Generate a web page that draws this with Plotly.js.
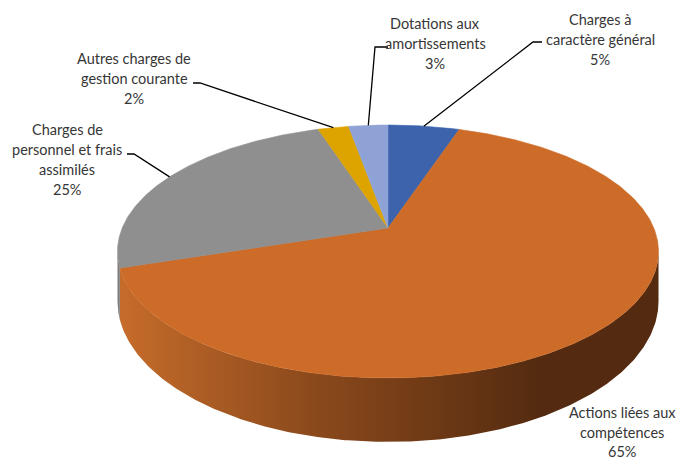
<!DOCTYPE html>
<html>
<head>
<meta charset="utf-8">
<script src="https://cdn.plot.ly/plotly-3.0.1.min.js"></script>
<style>html,body{margin:0;padding:0;background:#fff;}#chart{width:678px;height:459px;}</style>
</head>
<body>
<div id="chart"></div>
<script>
// ---- data ----
const categories = ["Charges à caractère général", "Actions liées aux compétences", "Charges de personnel et frais assimilés", "Autres charges de gestion courante", "Dotations aux amortissements"];
const labelLines = [["Charges à", "caractère général"], ["Actions liées aux", "compétences"], ["Charges de", "personnel et frais", "assimilés"], ["Autres charges de", "gestion courante"], ["Dotations aux", "amortissements"]];
const values = [5.1, 64.9, 25.0, 2.2, 2.8];

// ---- styles / layout (not data) ----
const topColors = ["#3d63ad", "#cd6b28", "#8f8f8f", "#dda400", "#8ea2d6"];
const sideScales = [
  [[0, "#2c4a84"], [1, "#1f3560"]],
  [[0, "#c66c2b"], [0.45, "#8c4a1c"], [1, "#542b10"]],
  [[0, "#7d7d7d"], [1, "#6a6a6a"]],
  [[0, "#a87c00"], [1, "#7a5a00"]],
  [[0, "#6a7aa0"], [1, "#4e5a78"]]
];
const labelPos = [[600, 39.5], [622, 432], [67, 159.5], [134, 78.5], [435, 43.5]];
const leaders = [[542, 42, 533], null, [127, 154, 134], [193, 83, 200], [388, 47, 375]];
const LINE_H = 19.7;

// projection of the tilted disc (perspective)
const CX = 388, CY = 228, A = 265.8, B = 122.1, K = 0.1858, T0 = 47.6, K2 = 0.256;
function proj(phi, drop) {
  const u = Math.sin(phi), v = Math.cos(phi);
  const den = 1 + K * v;
  return [CX + A * u / den, CY - B * v / den + (drop ? T0 / (1 + K2 * v) : 0)];
}
function arc(a, b, drop) {
  const pts = [];
  const n = Math.max(2, Math.ceil(Math.abs(b - a) / (Math.PI / 360)));
  for (let i = 0; i <= n; i++) pts.push(proj(a + (b - a) * i / n, drop));
  return pts;
}

const total = values.reduce((s, v) => s + v, 0);
const starts = [], ends = [];
let acc = 0;
values.forEach(v => { starts.push(acc / total * 2 * Math.PI); acc += v; ends.push(acc / total * 2 * Math.PI); });

const S1 = Math.acos(-K), S2 = 2 * Math.PI - Math.acos(-K);
const traces = [];
// sides
values.forEach((v, i) => {
  const a = Math.max(starts[i], S1), b = Math.min(ends[i], S2);
  if (b <= a) return;
  const pts = arc(a, b, false).concat(arc(b, a, true));
  traces.push({
    type: "scatter", mode: "lines", fill: "toself",
    x: pts.map(p => p[0]), y: pts.map(p => p[1]),
    line: { width: 0 },
    fillcolor: sideScales[i][0][1],
    fillgradient: { type: "horizontal", colorscale: sideScales[i], start: 120, stop: 540 },
    hoverinfo: "skip", name: categories[i]
  });
});
// top faces
values.forEach((v, i) => {
  const pts = [[CX, CY]].concat(arc(starts[i], ends[i], false)).concat([[CX, CY]]);
  traces.push({
    type: "scatter", mode: "lines", fill: "toself",
    x: pts.map(p => p[0]), y: pts.map(p => p[1]),
    line: { width: 0.6, color: topColors[i] },
    fillcolor: topColors[i],
    hoverinfo: "skip", name: categories[i]
  });
});

const annotations = [];
const shapes = [];
values.forEach((v, i) => {
  const lines = labelLines[i].concat([Math.round(v / total * 100) + "%"]);
  const [lx, ly] = labelPos[i];
  lines.forEach((t, j) => {
    annotations.push({
      x: lx, y: ly + (j - (lines.length - 1) / 2) * LINE_H, xref: "x", yref: "y",
      text: t, showarrow: false, xanchor: "center", yanchor: "middle",
      font: { family: "Lato, 'Open Sans', sans-serif", size: 14.5, color: "#363636" }
    });
  });
  if (leaders[i]) {
    const mid = (starts[i] + ends[i]) / 2;
    const e = proj(mid, false);
    const [sx, sy, kx] = leaders[i];
    shapes.push({
      type: "path", xref: "x", yref: "y",
      path: `M ${sx},${sy} L ${kx},${sy} L ${e[0]},${e[1]}`,
      line: { color: "#000000", width: 1.3 }
    });
  }
});

const layout = {
  width: 678, height: 459,
  margin: { l: 0, r: 0, t: 0, b: 0 },
  paper_bgcolor: "#ffffff", plot_bgcolor: "#ffffff",
  showlegend: false, hovermode: false,
  xaxis: { range: [0, 678], visible: false, fixedrange: true },
  yaxis: { range: [459, 0], visible: false, fixedrange: true },
  annotations: annotations, shapes: shapes
};
Plotly.newPlot("chart", traces, layout, { displayModeBar: false, staticPlot: true });
</script>
</body>
</html>
